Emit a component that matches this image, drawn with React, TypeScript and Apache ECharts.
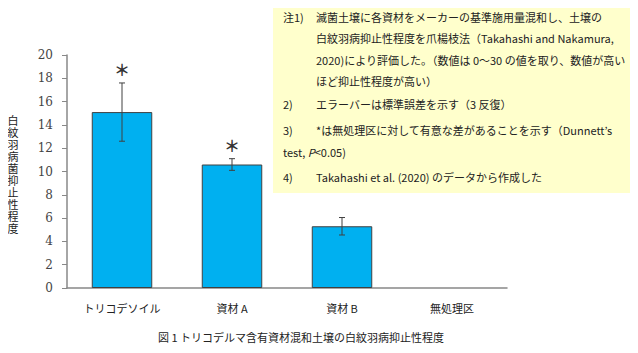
import React, { useEffect, useRef } from "react";
import * as echarts from "echarts";

const categories = ["トリコデソイル", "資材 A", "資材 B", "無処理区"];
const means = [15.1, 10.6, 5.3, 0];
const errors = [2.5, 0.5, 0.75, 0];
const significant = [true, true, false, false];
const yTicks = { min: 0, max: 20, interval: 2 };
const yTitle = "白紋羽病菌抑止性程度";

const noteLines: [string, string, number][] = [
  ["注1)", "滅菌土壌に各資材をメーカーの基準施用量混和し、土壌の", 17],
  ["", "白紋羽病抑止性程度を爪楊枝法（Takahashi and Nakamura,", 38],
  ["", "2020)により評価した。（数値は 0～30 の値を取り、数値が高い", 60],
  ["", "ほど抑止性程度が高い）", 81],
  ["2)", "エラーバーは標準誤差を示す（3 反復）", 104],
  ["3)", "*は無処理区に対して有意な差があることを示す（Dunnett’s", 130],
  ["4)", "Takahashi et al. (2020) のデータから作成した", 177],
];

const JP = "'Noto Sans CJK JP', sans-serif";

export default function App() {
  const ref = useRef<HTMLDivElement>(null);
  useEffect(() => {
    if (!ref.current) return;
    const chart = echarts.init(ref.current, undefined, { renderer: "svg" });
    const g: any[] = [];
    noteLines.forEach(([num, text, y]) => {
      if (num)
        g.push({
          type: "text",
          x: 283,
          y,
          style: { text: num, font: `11px ${JP}`, fill: "#222", verticalAlign: "middle" },
        });
      g.push({
        type: "text",
        x: 316,
        y,
        style: { text, font: `11px ${JP}`, fill: "#222", verticalAlign: "middle" },
      });
    });
    g.push({
      type: "text",
      x: 283,
      y: 152,
      style: {
        rich: { n: { font: `11px ${JP}`, fill: "#222" }, i: { font: `italic 11px ${JP}`, fill: "#222" } },
        text: "{n|test, }{i|P}{n|<0.05)}",
        verticalAlign: "middle",
      },
    });

    chart.setOption({
      animation: false,
      grid: { left: 67, right: 131, top: 55, bottom: 65 },
      graphic: [
        { type: "rect", shape: { x: 273, y: 0, width: 365, height: 193 }, style: { fill: "#FFFFCC" }, z: -10 },
        ...g,
        {
          type: "text",
          x: 301,
          y: 337,
          style: {
            text: "図 1 トリコデルマ含有資材混和土壌の白紋羽病抑止性程度",
            font: `11px ${JP}`,
            fill: "#222",
            align: "center",
            verticalAlign: "middle",
          },
        },
      ],
      xAxis: {
        type: "category",
        data: categories,
        axisLine: { lineStyle: { color: "#888", width: 1.5 } },
        axisTick: { inside: true, length: 3, lineStyle: { color: "#888" } },
        axisLabel: { color: "#222", fontFamily: JP, fontSize: 11, margin: 14 },
      },
      yAxis: {
        type: "value",
        min: yTicks.min,
        max: yTicks.max,
        interval: yTicks.interval,
        splitLine: { show: false },
        axisLine: { show: true, lineStyle: { color: "#888", width: 1.5 } },
        axisTick: { show: true, length: 5, lineStyle: { color: "#888" } },
        axisLabel: { color: "#444", fontFamily: "'DejaVu Serif', serif", fontSize: 12, margin: 14 },
      },
      series: [
        {
          type: "bar",
          data: means.map((m) => ({
            value: m,
            itemStyle: m === 0 ? { borderWidth: 0, color: "transparent" } : undefined,
          })),
          barWidth: "55%",
          itemStyle: { color: "#00B0F0", borderColor: "#404040", borderWidth: 1 },
        },
        {
          type: "custom",
          data: means.map((m, i) => [i, m, errors[i], significant[i] ? 1 : 0]),
          renderItem: (params: any, api: any) => {
            const i = api.value(0);
            const m = api.value(1);
            const e = api.value(2);
            const sig = api.value(3);
            const top = api.coord([i, m + e]);
            const bot = api.coord([i, m - e]);
            const children: any[] = [];
            if (e > 0) {
              const st = { stroke: "#404040", lineWidth: 1 };
              children.push(
                { type: "line", shape: { x1: top[0], y1: top[1], x2: bot[0], y2: bot[1] }, style: st },
                { type: "line", shape: { x1: top[0] - 3, y1: top[1], x2: top[0] + 3, y2: top[1] }, style: st },
                { type: "line", shape: { x1: bot[0] - 3, y1: bot[1], x2: bot[0] + 3, y2: bot[1] }, style: st }
              );
            }
            if (sig) {
              children.push({
                type: "text",
                x: top[0],
                y: top[1] - 6,
                style: {
                  text: "＊",
                  font: `bold 16px ${JP}`,
                  fill: "#333",
                  align: "center",
                  verticalAlign: "bottom",
                },
              });
            }
            return { type: "group", children };
          },
          z: 10,
        },
      ],
    });
    return () => chart.dispose();
  }, []);
  return (
    <div style={{ position: "relative", width: 638, height: 353, marginLeft: -8, marginTop: -8 }}>
      <div ref={ref} style={{ width: 638, height: 353 }} />
      <div
        style={{
          position: "absolute",
          left: 5,
          top: 115,
          writingMode: "vertical-rl",
          textOrientation: "upright",
          fontFamily: JP,
          fontSize: 11,
          letterSpacing: 1,
          lineHeight: "16px",
          color: "#222",
        }}
      >
        {yTitle}
      </div>
    </div>
  );
}
